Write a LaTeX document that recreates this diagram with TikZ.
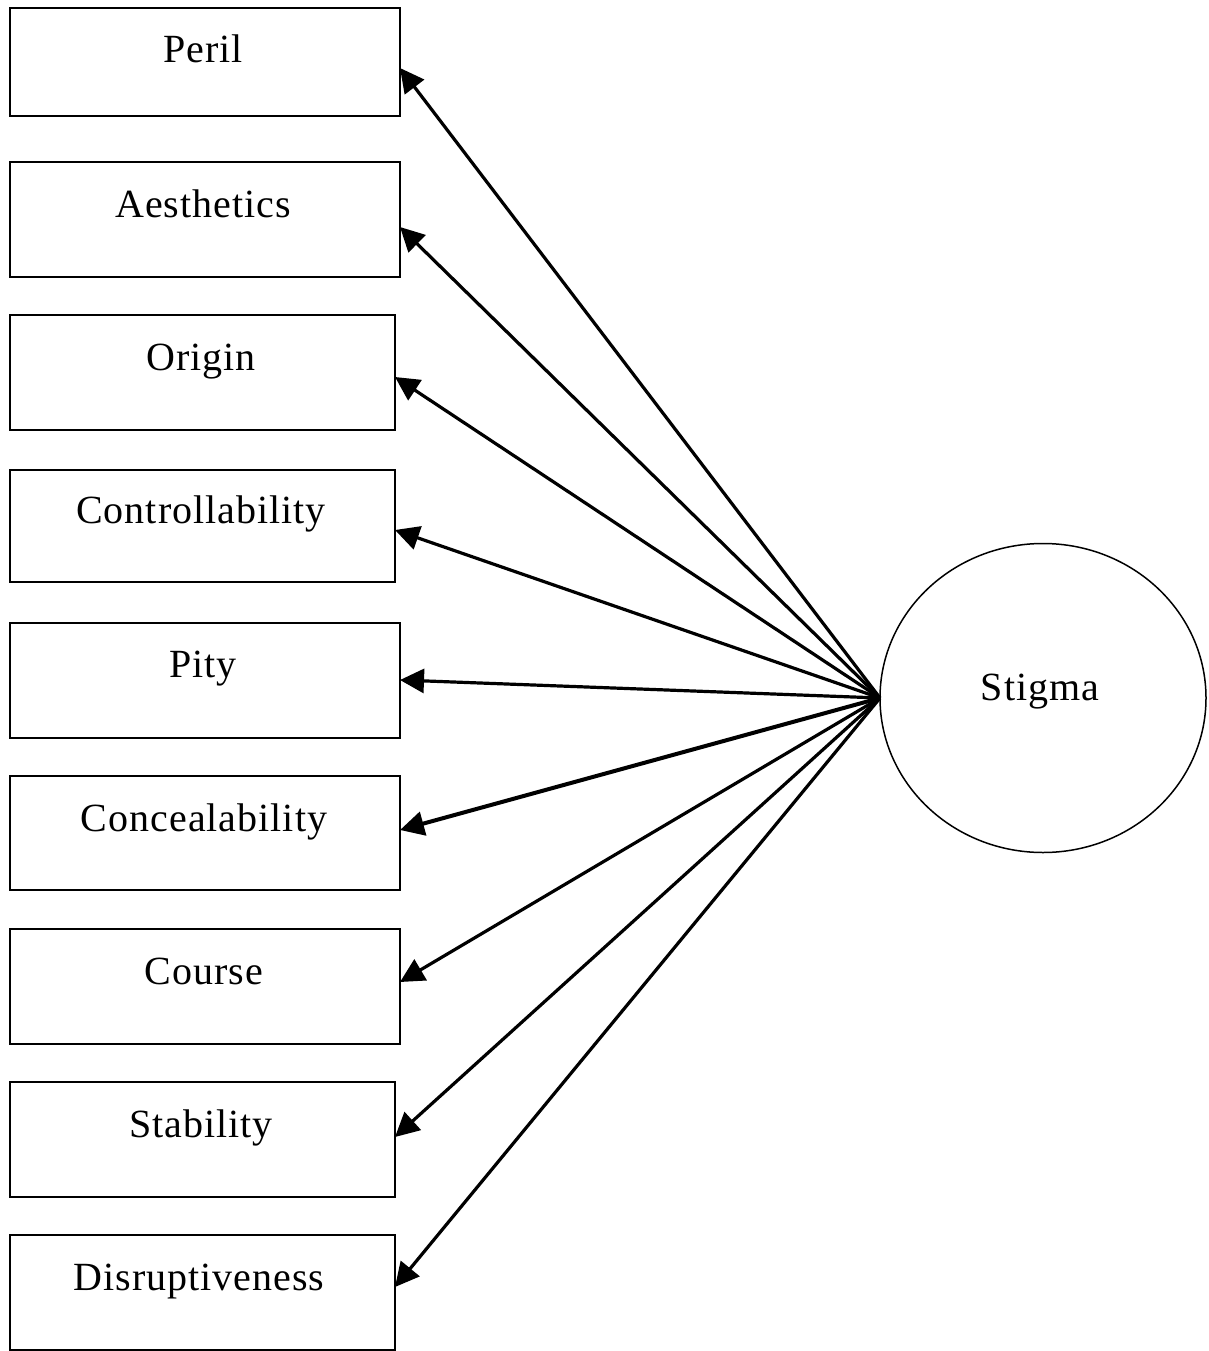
\documentclass[tikz,border=0pt]{standalone}
\usepackage{fontspec}
\setmainfont{Liberation Serif}[LetterSpace=2.5]
\usetikzlibrary{shapes.geometric,arrows.meta}
\begin{document}
\begin{tikzpicture}[x=1pt,y=-1pt,
  box/.style={draw,line width=2pt,anchor=north west,inner sep=0pt,outer sep=0pt},
  lbl/.style={anchor=base,inner sep=0pt,font=\fontsize{40}{48}\selectfont},
  arr/.style={line width=3.2pt,-{Triangle[length=24pt,width=24pt]}}]
\useasboundingbox (0,0) rectangle (1209,1351);
\node[box,minimum width=390,minimum height=108] (peril) at (10,8) {};
\node[box,minimum width=390,minimum height=115] (aest) at (10,162) {};
\node[box,minimum width=385,minimum height=115] (orig) at (10,315) {};
\node[box,minimum width=385,minimum height=112] (ctrl) at (10,470) {};
\node[box,minimum width=390,minimum height=115] (pity) at (10,623) {};
\node[box,minimum width=390,minimum height=114] (conc) at (10,776) {};
\node[box,minimum width=390,minimum height=115] (cour) at (10,929) {};
\node[box,minimum width=385,minimum height=115] (stab) at (10,1082) {};
\node[box,minimum width=385,minimum height=115] (disr) at (10,1235) {};
\node[lbl] (tperil) at (203,63) {Peril};
\node[lbl] (taest) at (203,217) {Aesthetics};
\node[lbl] (torig) at (201,370) {Origin};
\node[lbl] (tctrl) at (201,523) {Controllability};
\node[lbl] (tpity) at (203,677) {Pity};
\node[lbl] (tconc) at (204,831) {Concealability};
\node[lbl] (tcour) at (204,984) {Course};
\node[lbl] (tstab) at (201,1137) {Stability};
\node[lbl] (tdisr) at (199,1290) {Disruptiveness};
\node[draw,ellipse,line width=1.5pt,minimum width=326,minimum height=309,inner sep=0pt,outer sep=0pt] (stigma) at (1043,698) {};
\node[lbl] (tstig) at (1040,700) {Stigma};
\coordinate (hub) at (stigma.west);
\draw[arr] (hub) -- ([yshift=-60pt]peril.north east);
\draw[arr] (hub) -- ([yshift=-65pt]aest.north east);
\draw[arr] (hub) -- ([yshift=-62pt]orig.north east);
\draw[arr] (hub) -- ([yshift=-60pt]ctrl.north east);
\draw[arr] (hub) -- ([yshift=-57pt]pity.north east);
\draw[arr,line width=4pt] (hub) -- ([yshift=-54pt]conc.north east);
\draw[arr] (hub) -- ([yshift=-53pt]cour.north east);
\draw[arr] (hub) -- ([yshift=-55pt]stab.north east);
\draw[arr] (hub) -- ([yshift=-52pt]disr.north east);
\end{tikzpicture}
\end{document}
